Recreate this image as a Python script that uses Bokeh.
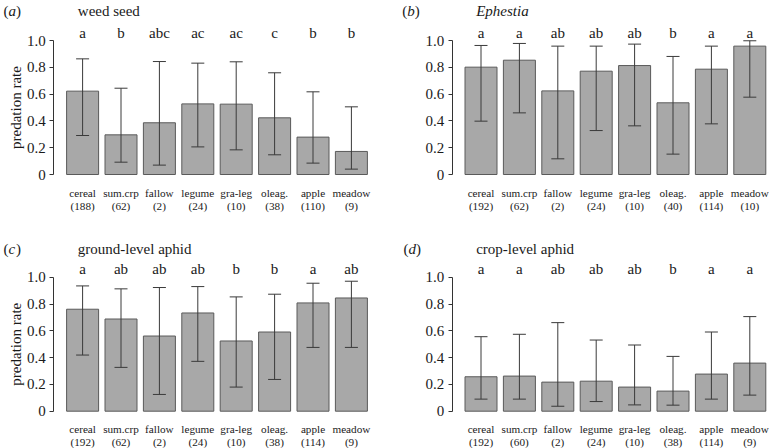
import math
from bokeh.plotting import figure
from bokeh.layouts import gridplot
from bokeh.models import FixedTicker, Range1d, ColumnDataSource
from bokeh.core.properties import value
from bokeh.embed import file_html
from bokeh.resources import INLINE

habitats = ["cereal", "sum.crp", "fallow", "legume", "gra-leg", "oleag.", "apple", "meadow"]
y_ticks = [0, 0.2, 0.4, 0.6, 0.8, 1.0]
y_tick_labels = ["0", "0.2", "0.4", "0.6", "0.8", "1.0"]

weed_n = [188, 62, 2, 24, 10, 38, 110, 9]
weed_mean = [0.622, 0.296, 0.386, 0.527, 0.525, 0.423, 0.279, 0.172]
weed_lo = [0.291, 0.092, 0.070, 0.206, 0.184, 0.147, 0.085, 0.040]
weed_hi = [0.863, 0.644, 0.843, 0.831, 0.841, 0.759, 0.617, 0.505]
weed_letters = ["a", "b", "abc", "ac", "ac", "c", "b", "b"]

eph_n = [192, 62, 2, 24, 10, 40, 114, 10]
eph_mean = [0.801, 0.853, 0.624, 0.771, 0.813, 0.535, 0.786, 0.958]
eph_lo = [0.398, 0.460, 0.117, 0.328, 0.363, 0.152, 0.378, 0.577]
eph_hi = [0.963, 0.978, 0.958, 0.958, 0.973, 0.881, 0.958, 0.998]
eph_letters = ["a", "a", "ab", "ab", "ab", "b", "a", "a"]

ground_n = [192, 62, 2, 24, 10, 38, 114, 9]
ground_mean = [0.761, 0.688, 0.561, 0.733, 0.524, 0.591, 0.808, 0.845]
ground_lo = [0.419, 0.327, 0.125, 0.372, 0.180, 0.237, 0.476, 0.476]
ground_hi = [0.935, 0.913, 0.923, 0.930, 0.853, 0.873, 0.955, 0.970]
ground_letters = ["a", "ab", "ab", "ab", "b", "b", "a", "ab"]

crop_n = [192, 60, 2, 24, 10, 38, 114, 9]
crop_mean = [0.257, 0.262, 0.217, 0.224, 0.180, 0.150, 0.277, 0.359]
crop_lo = [0.090, 0.090, 0.037, 0.072, 0.047, 0.045, 0.090, 0.120]
crop_hi = [0.556, 0.574, 0.661, 0.531, 0.494, 0.409, 0.591, 0.706]
crop_letters = ["a", "a", "ab", "ab", "ab", "b", "a", "a"]

FONT_NAME = "Liberation Serif"
FONT = value(FONT_NAME)
TXT = "#1a1a1a"
FIG_H = 224
Y_SCALE = 134.0  # px per unit


def panel(tag, title, italic, n, mean, lo, hi, letters, left_px, width,
          x_scale, row, ylabel, tag_px):
    if row == 1:
        top_px, title_px = 40, 10
    else:
        top_px, title_px = 52.7, 24.5
    lab1, lab2 = 18, 31
    y_top = 1 + top_px / Y_SCALE
    y_bot = y_top - FIG_H / Y_SCALE
    ax_x = -0.2
    x0 = ax_x - left_px / x_scale
    x1 = x0 + width / x_scale
    p = figure(width=width, height=FIG_H, output_backend="svg", toolbar_location=None,
               x_range=Range1d(x0, x1), y_range=Range1d(y_bot, y_top),
               x_axis_location=None, min_border_left=0, min_border_right=0,
               min_border_top=0, min_border_bottom=0)
    p.outline_line_color = None
    p.grid.visible = False
    p.background_fill_color = "white"

    xs = [0.7 + 1.2 * i for i in range(len(habitats))]
    src = ColumnDataSource(dict(x=xs, mean=mean, lo=lo, hi=hi, letters=letters,
                                cat=habitats, n=["(%d)" % v for v in n]))
    p.vbar(x="x", width=1.0, top="mean", bottom=0, source=src,
           fill_color="#a8a8a8", line_color="#5a5a5a", line_width=1)
    p.segment(x0="x", y0="lo", x1="x", y1="hi", source=src, line_color="#3a3a3a", line_width=1)
    p.dash(x="x", y="lo", size=13, source=src, line_color="#3a3a3a", line_width=1)
    p.dash(x="x", y="hi", size=13, source=src, line_color="#3a3a3a", line_width=1)

    p.text(x="x", y=1.0, text="letters", source=src, y_offset=-8, text_font=FONT,
           text_font_size="15px", text_align="center", text_baseline="middle", text_color=TXT)
    p.text(x="x", y=0, text="cat", source=src, y_offset=lab1, text_font=FONT,
           text_font_size="11.2px", text_align="center", text_baseline="middle", text_color=TXT)
    p.text(x="x", y=0, text="n", source=src, y_offset=lab2, text_font=FONT,
           text_font_size="11.2px", text_align="center", text_baseline="middle", text_color=TXT)

    ax = p.yaxis[0]
    ax.fixed_location = ax_x
    ax.bounds = (0, 1)
    ax.ticker = FixedTicker(ticks=y_ticks)
    ax.major_label_overrides = {t: l for t, l in zip(y_ticks, y_tick_labels)}
    ax.minor_tick_line_color = None
    ax.major_tick_in = 0
    ax.major_tick_out = 4
    ax.major_label_standoff = 4
    ax.axis_line_color = "#333333"
    ax.major_tick_line_color = "#333333"
    ax.major_label_text_font = FONT_NAME
    ax.major_label_text_font_size = "15px"
    ax.major_label_text_color = TXT
    if ylabel:
        p.text(x=[ax_x - (left_px - 15) / x_scale], y=[0.5], text=[ylabel], angle=math.pi / 2,
               text_font=FONT, text_font_size="15px", text_align="center",
               text_baseline="middle", text_color=TXT)

    ty = 1 + (top_px - title_px) / Y_SCALE
    p.text(x=[ax_x + 24 / x_scale], y=[ty], text=[title], text_font=FONT,
           text_font_size="15px", text_font_style="italic" if italic else "normal",
           text_baseline="middle", text_align="left", text_color=TXT)
    # panel tag "(x)" with italic letter
    tx = ax_x - (left_px - tag_px) / x_scale
    p.text(x=[tx, tx + 12.5 / x_scale], y=[ty] * 2,
           text=["(", ")"], text_font=FONT, text_font_size="15px",
           text_font_style="normal", text_baseline="middle", text_align="left",
           text_color=TXT)
    p.text(x=[tx + 5 / x_scale], y=[ty], text=[tag], text_font=FONT,
           text_font_size="15px", text_font_style="italic", text_baseline="middle",
           text_align="left", text_color=TXT)
    return p


pa = panel("a", "weed seed", False, weed_n, weed_mean, weed_lo, weed_hi, weed_letters,
           53.3, 385, 32.0, 1, "predation rate", 3)
pb = panel("b", "Ephestia", True, eph_n, eph_mean, eph_lo, eph_hi, eph_letters,
           66.7, 384, 32.0, 1, None, 16.7)
pc = panel("c", "ground-level aphid", False, ground_n, ground_mean, ground_lo, ground_hi,
           ground_letters, 53.3, 385, 32.0, 2, "predation rate", 3)
pd = panel("d", "crop-level aphid", False, crop_n, crop_mean, crop_lo, crop_hi, crop_letters,
           66.7, 384, 32.0, 2, None, 18)

grid = gridplot([[pa, pb], [pc, pd]], toolbar_location=None)
open("out.html", "w").write(file_html(grid, INLINE))
